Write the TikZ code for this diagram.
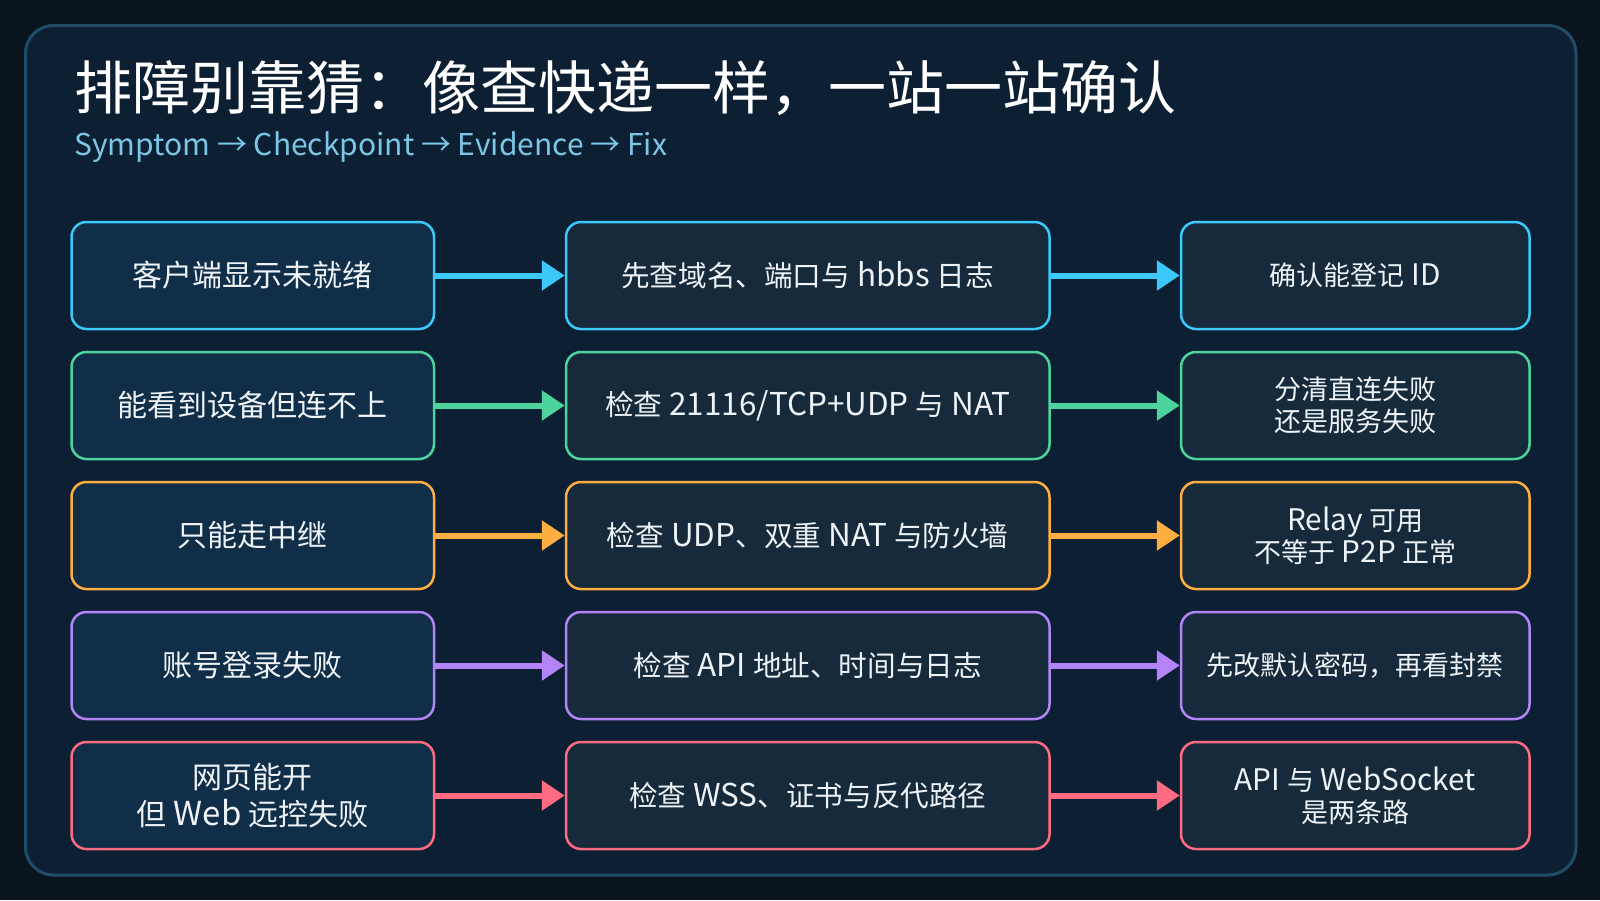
\documentclass[tikz,border=0pt]{standalone}
\usepackage{fontspec}
\setmainfont{Noto Sans CJK SC}
\newfontfamily\latfont[Scale=1.1]{Noto Sans CJK SC}
\newcommand\latn[1]{{\latfont #1}}
\usetikzlibrary{arrows.meta}
\definecolor{bgout}{HTML}{0A141F}
\definecolor{panelfill}{HTML}{0C1F33}
\definecolor{panelborder}{HTML}{1F4C66}
\definecolor{fillA}{HTML}{112E48}
\definecolor{fillB}{HTML}{162A3C}
\definecolor{textw}{HTML}{EEF3F7}
\definecolor{subc}{HTML}{7CC6E6}
\definecolor{cCyan}{HTML}{3CC8F8}
\definecolor{cGreen}{HTML}{4CD49C}
\definecolor{cOrange}{HTML}{FFAE42}
\definecolor{cPurple}{HTML}{B284F5}
\definecolor{cPink}{HTML}{FF6B81}
\begin{document}
\begin{tikzpicture}[x=0.5pt,y=-0.5pt,
  card/.style={draw, line width=1.25pt, rounded corners=7.5pt, minimum height=53.5pt, text=textw, align=center, inner sep=0pt},
  colA/.style={card, fill=fillA, minimum width=181.25pt, font=\fontsize{15pt}{18.3pt}\selectfont},
  colB/.style={card, fill=fillB, minimum width=241.75pt, font=\fontsize{14.3pt}{17.5pt}\selectfont},
  colC/.style={card, fill=fillB, minimum width=174.25pt, font=\fontsize{13.5pt}{15.9pt}\selectfont},
  link/.style={line width=3pt, -{Triangle[length=11.5pt,width=14.5pt]}}
]
\fill[bgout] (0,0) rectangle (1600,900);
\useasboundingbox (0,0) rectangle (1600,900);
\draw[draw=panelborder, fill=panelfill, line width=1.5pt, rounded corners=14pt] (25.5,25.5) rectangle (1576,875);

\node[anchor=west, text=white, inner sep=0pt, font=\fontsize{29pt}{34pt}\selectfont] (title) at (74,88) {排障别靠猜：像查快递一样，一站一站确认};
\node[anchor=base west, text=subc, inner sep=0pt, font=\fontsize{15pt}{18pt}\selectfont] (sub) at (74,155) {Symptom → Checkpoint → Evidence → Fix};

% row 1
\node[colA, draw=cCyan] (r1a) at (252.75,275.5) {客户端显示未就绪};
\node[colB, draw=cCyan] (r1b) at (807.75,275.5) {先查域名、端口与\latn{ hbbs }日志};
\node[colC, draw=cCyan] (r1c) at (1355.25,275.5) {确认能登记\latn{ ID}};
% row 2
\node[colA, draw=cGreen] (r2a) at (252.75,405.5) {能看到设备但连不上};
\node[colB, draw=cGreen] (r2b) at (807.75,405.5) {检查\latn{ 21116/TCP+UDP }与\latn{ NAT}};
\node[colC, draw=cGreen] (r2c) at (1355.25,405.5) {分清直连失败\\还是服务失败};
% row 3
\node[colA, draw=cOrange] (r3a) at (252.75,535.5) {只能走中继};
\node[colB, draw=cOrange] (r3b) at (807.75,535.5) {检查\latn{ UDP}、双重\latn{ NAT }与防火墙};
\node[colC, draw=cOrange] (r3c) at (1355.25,535.5) {\latn{Relay }可用\\不等于\latn{ P2P }正常};
% row 4
\node[colA, draw=cPurple] (r4a) at (252.75,665.5) {账号登录失败};
\node[colB, draw=cPurple] (r4b) at (807.75,665.5) {检查\latn{ API }地址、时间与日志};
\node[colC, draw=cPurple] (r4c) at (1355.25,665.5) {先改默认密码，再看封禁};
% row 5
\node[colA, draw=cPink] (r5a) at (252.75,795.5) {网页能开\\但\latn{ Web }远控失败};
\node[colB, draw=cPink] (r5b) at (807.75,795.5) {检查\latn{ WSS}、证书与反代路径};
\node[colC, draw=cPink] (r5c) at (1355.25,795.5) {\latn{API }与\latn{ WebSocket}\\是两条路};

\draw[link, cCyan] (r1a.east) -- (r1b.west);
\draw[link, cCyan] (r1b.east) -- (r1c.west);
\draw[link, cGreen] (r2a.east) -- (r2b.west);
\draw[link, cGreen] (r2b.east) -- (r2c.west);
\draw[link, cOrange] (r3a.east) -- (r3b.west);
\draw[link, cOrange] (r3b.east) -- (r3c.west);
\draw[link, cPurple] (r4a.east) -- (r4b.west);
\draw[link, cPurple] (r4b.east) -- (r4c.west);
\draw[link, cPink] (r5a.east) -- (r5b.west);
\draw[link, cPink] (r5b.east) -- (r5c.west);
\end{tikzpicture}
\end{document}
